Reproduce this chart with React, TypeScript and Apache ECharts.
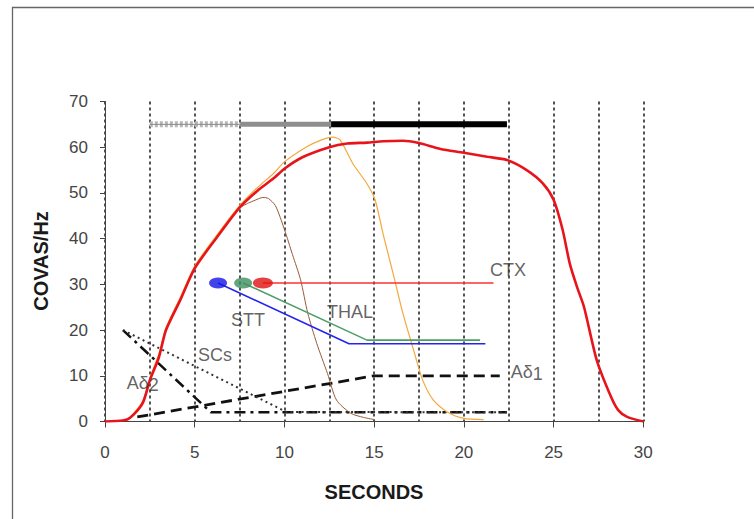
import React, { useEffect, useRef } from "react";
import * as echarts from "echarts";

// ---- data (seconds, COVAS/Hz) ----
const ctxCurve: [number, number][] = [
  [0, 0], [1.0, 0.2], [1.4, 0.8], [2.1, 4], [2.5, 9], [3.0, 14], [3.4, 20], [4.2, 26.6],
  [5.0, 33.5], [6.2, 40.1], [7.5, 46.8], [8.5, 50.5], [9.4, 53.2], [10, 55.3], [11, 57.8],
  [12.5, 60], [13.5, 60.8], [14.6, 61], [15.5, 61.3], [16.6, 61.4], [17.5, 60.9], [18.7, 59.6],
  [20, 58.8], [21.3, 57.9], [22.4, 57.2], [23.5, 55], [24.4, 52.1], [25, 48.5], [25.5, 42],
  [25.9, 34.6], [26.3, 29.5], [26.7, 25], [27.4, 13.5], [28.2, 5.4], [28.6, 2.5], [29.1, 1], [30, 0],
];
const thalCurve: [number, number][] = [
  [1.4, 0.8], [2.1, 4.5], [2.5, 9.5], [3.0, 14.8], [3.4, 20.5], [4.2, 27.2], [5.0, 34],
  [6.2, 40.6], [7.5, 47.2], [8.5, 51.2], [9.4, 54.3], [10, 56.8], [11.2, 60], [12, 61.5],
  [12.7, 62.2], [13.1, 61.6], [13.8, 56.5], [14.6, 52], [15.05, 48.5], [15.5, 41], [16.1, 31.7],
  [16.6, 23.7], [17.2, 15.6], [17.7, 9.1], [18.3, 4.7], [19.2, 1.8], [20, 0.7], [21.1, 0.4],
];
const sttCurve: [number, number][] = [
  [7.5, 46.8], [8.0, 47.8], [8.3, 48.3], [8.8, 49], [9.1, 48.8], [9.5, 47.2], [10.0, 42],
  [10.45, 36.5], [10.9, 31], [11.3, 23.7], [11.8, 17.1], [12.4, 10.5], [12.9, 4.7], [13.7, 1.8],
  [14.4, 0.9], [15.05, 0.4],
];
const ctxLine: [number, number][] = [[8.8, 30.3], [21.65, 30.3]];
const thalLine: [number, number][] = [[7.7, 30.3], [14.6, 17.8], [20.9, 17.8]];
const sttLine: [number, number][] = [[6.3, 30.3], [13.6, 17], [21.2, 17]];
const nodeBlue: [number, number] = [6.3, 30.3];
const nodeGreen: [number, number] = [7.7, 30.3];
const nodeRed: [number, number] = [8.8, 30.3];
const adelta1Line: [number, number][] = [[1.8, 1], [15, 10], [22, 10]];
const adelta2Line: [number, number][] = [[1, 20], [5.9, 2], [22.4, 2]];
const scsLine: [number, number][] = [[1, 20], [10.1, 2.1], [22.4, 2]];
const stimulusLevel = 65;
const phase1: [number, number] = [2.5, 7.5];
const phase2: [number, number] = [7.5, 12.6];
const phase3: [number, number] = [12.6, 22.4];
const annotations = [
  { name: "CTX", value: [22.46, 33.2] },
  { name: "THAL", value: [13.66, 24.0] },
  { name: "STT", value: [7.97, 22.2] },
  { name: "SCs", value: [6.13, 14.5] },
  { name: "Aδ2", value: [2.1, 8.5] },
  { name: "Aδ1", value: [23.5, 10.8] },
];
const xMin = 0, xMax = 30, xStep = 5, xGridStep = 2.5;
const yMin = 0, yMax = 70, yStep = 10;

const FONT = "'Liberation Sans', Arial, sans-serif";

function seg(p: [number, number]): [number, number][] {
  return [[p[0], stimulusLevel], [p[1], stimulusLevel]];
}

function lineSeries(data: [number, number][], color: string, width: number, extra: any = {}) {
  return {
    type: "line",
    data,
    symbol: "none",
    silent: true,
    lineStyle: { color, width, ...(extra.lineStyle || {}) },
    z: extra.z ?? 3,
    smooth: extra.smooth ?? false,
  };
}

export default function App() {
  const ref = useRef<HTMLDivElement>(null);
  useEffect(() => {
    document.body.style.margin = "0";
    document.body.style.overflow = "hidden";
    const chart = echarts.init(ref.current!, undefined, { renderer: "svg" });
    const option: any = {
      animation: false,
      backgroundColor: "#ffffff",
      textStyle: { fontFamily: FONT },
      grid: { left: 105, right: 110.7, top: 101.5, bottom: 97.5 },
      xAxis: [
        {
          type: "value", min: xMin, max: xMax, interval: xStep,
          axisLine: { show: true, onZero: false, lineStyle: { color: "#444", width: 1 } },
          axisTick: { show: true, length: 6, lineStyle: { color: "#444" } },
          axisLabel: { fontSize: 17, color: "#444", margin: 22, fontFamily: FONT },
          splitLine: { show: false },
          z: 5,
        },
        {
          type: "value", min: xMin, max: xMax, interval: xGridStep, position: "bottom",
          axisLine: { show: false }, axisTick: { show: false }, axisLabel: { show: false },
          splitLine: { show: true, lineStyle: { type: [3, 3], color: "#1a1a1a", width: 1.5 } },
        },
      ],
      yAxis: {
        type: "value", min: yMin, max: yMax, interval: yStep,
        axisLine: { show: true, onZero: false, lineStyle: { color: "#444", width: 1 } },
        axisTick: { show: true, length: 5, lineStyle: { color: "#444" } },
        axisLabel: { fontSize: 17, color: "#444", margin: 17, fontFamily: FONT },
        splitLine: { show: false },
        z: 5,
      },
      graphic: [
        {
          type: "rect", shape: { x: 12.5, y: 7.5, width: 900, height: 700 },
          style: { fill: "none", stroke: "#666", lineWidth: 1.3 }, silent: true, z: -10,
        },
        {
          type: "text", x: 41, y: 261, rotation: Math.PI / 2,
          style: { text: "COVAS/Hz", fontSize: 20, fontWeight: "bold", fontFamily: FONT, fill: "#1a1a1a", align: "center", verticalAlign: "middle" },
        },
        {
          type: "text", x: 374, y: 492,
          style: { text: "SECONDS", fontSize: 20, fontWeight: "bold", fontFamily: FONT, fill: "#1a1a1a", align: "center", verticalAlign: "middle" },
        },
      ],
      series: [
        // stimulus bar
        lineSeries(seg(phase1), "#b8b8b8", 6, { lineStyle: { type: [3, 2] } }),
        lineSeries(seg(phase1), "#8a8a8a", 1),
        lineSeries(seg(phase2), "#8e8e8e", 5),
        lineSeries(seg(phase3), "#000000", 6),
        // black dashed afferent lines
        lineSeries(adelta1Line, "#111", 2.8, { lineStyle: { type: [11, 6] } }),
        lineSeries(adelta2Line, "#111", 2.5, { lineStyle: { type: [11, 5, 3, 5] } }),
        lineSeries(scsLine, "#333", 2, { lineStyle: { type: [2, 3.5] } }),
        // response curves
        lineSeries(sttCurve, "#9a5a3a", 1, { smooth: 0.25, z: 4 }),
        lineSeries(thalCurve, "#f2a93b", 1.2, { smooth: 0.25, z: 4 }),
        lineSeries(ctxCurve, "#e8141c", 2.6, { smooth: 0.25, z: 5 }),
        // pathway lines
        lineSeries(sttLine, "#2424ee", 1.6, { z: 6 }),
        lineSeries(thalLine, "#4e9e6a", 1.6, { z: 6 }),
        lineSeries(ctxLine, "#ff3030", 1.6, { z: 6 }),
        {
          type: "scatter", z: 7, silent: true, symbol: "circle",
          data: [
            { value: nodeBlue, symbolSize: [18, 11], itemStyle: { color: "#1414e6" } },
            { value: nodeGreen, symbolSize: [18, 11], itemStyle: { color: "#3d8f5f" } },
            { value: nodeRed, symbolSize: [20, 11], itemStyle: { color: "#e01010" } },
          ],
        },
        {
          type: "scatter", z: 8, silent: true, symbolSize: 1,
          itemStyle: { color: "transparent" },
          data: annotations,
          label: {
            show: true, position: "inside", color: "#3a3a3a", fontSize: 18, fontFamily: FONT,
            formatter: (p: any) => {
              const n: string = p.name;
              if (n.startsWith("Aδ")) return `{n|Aδ}{s|${n.slice(2)}}`;
              return n;
            },
            rich: {
              n: { fontSize: 18, lineHeight: 18, color: "#3a3a3a", fontFamily: FONT },
              s: { fontSize: 18, lineHeight: 18, padding: [4, 0, 0, 0], color: "#3a3a3a", fontFamily: FONT },
            },
          },
        },
      ],
    };
    chart.setOption(option);
    return () => chart.dispose();
  }, []);
  return <div ref={ref} style={{ width: 754, height: 519 }} />;
}
